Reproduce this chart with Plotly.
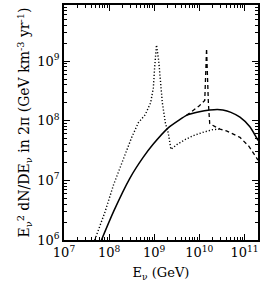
import plotly.graph_objects as go

# log10 energy (GeV) and log10 flux values
solid_logE = [7.83, 8.1, 8.456, 8.75, 8.97, 9.31, 9.55, 9.715, 10.0, 10.23, 10.4, 10.52, 10.7, 10.9, 11.12, 11.3]
solid_logF = [6.0, 6.48, 7.03, 7.38, 7.6, 7.88, 8.01, 8.09, 8.15, 8.18, 8.19, 8.18, 8.14, 8.06, 7.9, 7.67]

dotted_logE = [7.68, 7.9, 8.1, 8.3, 8.5, 8.65, 8.8, 8.92, 8.98, 9.01, 9.05, 9.1, 9.14, 9.18, 9.25, 9.31, 9.37, 9.5, 9.7, 9.9, 10.1, 10.3, 10.46]
dotted_logF = [6.0, 6.45, 6.93, 7.33, 7.72, 7.97, 8.1, 8.3, 8.55, 8.9, 9.27, 9.0, 8.7, 8.3, 7.95, 7.8, 7.52, 7.6, 7.69, 7.76, 7.81, 7.85, 7.86]

dashed_logE = [9.715, 9.85, 10.0, 10.12, 10.16, 10.2, 10.23, 10.35, 10.46, 10.6, 10.75, 10.9, 11.1, 11.3]
dashed_logF = [8.09, 8.17, 8.25, 8.34, 9.21, 8.3, 7.95, 7.9, 7.86, 7.83, 7.78, 7.72, 7.57, 7.34]

x_tick_exp = [7, 8, 9, 10, 11]
y_tick_exp = [6, 7, 8, 9]

def pw(v):
    return [10 ** a for a in v]

fig = go.Figure()
fig.add_trace(go.Scatter(x=pw(solid_logE), y=pw(solid_logF), mode="lines",
                         line=dict(color="black", width=1.5, shape="spline", smoothing=0.6)))
fig.add_trace(go.Scatter(x=pw(dotted_logE), y=pw(dotted_logF), mode="lines",
                         line=dict(color="black", width=1.4, dash="1.2px,2px")))
fig.add_trace(go.Scatter(x=pw(dashed_logE), y=pw(dashed_logF), mode="lines",
                         line=dict(color="black", width=1.3, dash="4px,3px")))

def minors(lo, hi):
    out = []
    for d in range(lo, hi + 1):
        for m in range(2, 10):
            out.append(m * 10 ** d)
    return out

font = dict(family="DejaVu Serif", size=13, color="black")
axis_common = dict(type="log", showgrid=False, zeroline=False, showline=True, linecolor="black",
                   linewidth=1.5, mirror="allticks", ticks="inside", ticklen=6, tickwidth=1,
                   tickcolor="black", tickfont=font, automargin=False)

fig.update_xaxes(**axis_common, range=[7, 11.3],
                 tickvals=[10 ** e for e in x_tick_exp],
                 ticktext=[f"10<sup>{e}</sup>" for e in x_tick_exp],
                 minor=dict(ticks="inside", ticklen=3, tickcolor="black", tickvals=minors(7, 11)),
                 title=dict(text="E<sub>ν</sub> (GeV)", font=font, standoff=9))
fig.update_yaxes(**axis_common, range=[6, 9.94],
                 tickvals=[10 ** e for e in y_tick_exp],
                 ticktext=[f"10<sup>{e}</sup>" for e in y_tick_exp],
                 minor=dict(ticks="inside", ticklen=3, tickcolor="black", tickvals=minors(6, 9)),
                 title=dict(text="E<sub>ν</sub><sup>2</sup> dN/DE<sub>ν</sub> in 2π (GeV km<sup>-3</sup> yr<sup>-1</sup>)",
                            font=dict(family="DejaVu Serif", size=14, color="black"), standoff=4))

fig.update_layout(width=263, height=303, margin=dict(l=64, r=5, t=5, b=63, autoexpand=False),
                  plot_bgcolor="white", paper_bgcolor="white", showlegend=False)

fig.write_html("out.html", config={"displayModeBar": False},
               post_script="document.body.style.margin='0';")
